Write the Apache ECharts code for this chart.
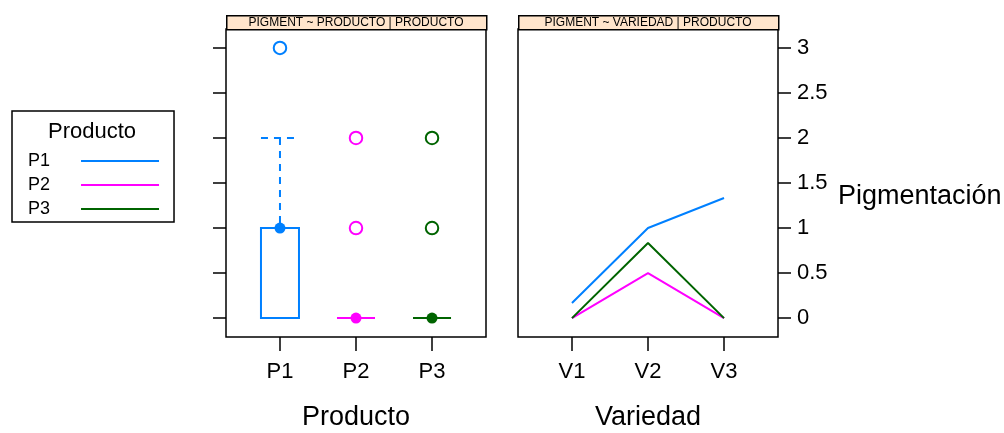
<!DOCTYPE html>
<html>
<head>
<meta charset="utf-8">
<script src="https://cdn.jsdelivr.net/npm/echarts@6/dist/echarts.min.js"></script>
<style>
  html, body { margin: 0; padding: 0; background: #fff; }
  #chart { width: 1004px; height: 433px; }
</style>
</head>
<body>
<div id="chart"></div>
<script>
// Categories
const productos = ['P1', 'P2', 'P3'];
const variedades = ['V1', 'V2', 'V3'];
const yTicks = [0, 0.5, 1, 1.5, 2, 2.5, 3];

// Box summaries per product: lower whisker, Q1, median, Q3, upper whisker
const cajaP1 = [0, 0, 1, 1, 2];
const cajaP2 = [0, 0, 0, 0, 0];
const cajaP3 = [0, 0, 0, 0, 0];

// Points beyond the whiskers
const atipicosP1 = [3];
const atipicosP2 = [1, 2];
const atipicosP3 = [1, 2];

// Mean pigmentation per variety, one line per product
const mediaP1 = [0.167, 1, 1.333];
const mediaP2 = [0, 0.5, 0];
const mediaP3 = [0, 0.833, 0];

const colores = ['#0080ff', '#ff00ff', '#006400'];
const FONT = "'Liberation Sans', Arial, sans-serif";

const cajas = [cajaP1, cajaP2, cajaP3];
const atipicos = [atipicosP1, atipicosP2, atipicosP3];
const medias = [mediaP1, mediaP2, mediaP3];

const X_MIN = 0.29, X_MAX = 3.71, Y_MIN = -0.21, Y_MAX = 3.21;
const PANEL_L = [226, 518], PANEL_W = 260, PANEL_TOP = 29, PANEL_H = 308, STRIP_H = 14;

function xAxisFor(grid, labels, name) {
  return {
    type: 'value', gridIndex: grid, min: X_MIN, max: X_MAX, position: 'bottom',
    axisLine: { show: false, onZero: false },
    splitLine: { show: false },
    axisTick: { show: true, inside: false, length: 14, customValues: [1, 2, 3], lineStyle: { color: '#000', width: 1.5 } },
    axisLabel: {
      show: true, customValues: [1, 2, 3], margin: 24,
      formatter: v => labels[Math.round(v) - 1],
      color: '#000', fontSize: 22, fontFamily: FONT
    },
    name: name, nameLocation: 'middle', nameGap: 67,
    nameTextStyle: { color: '#000', fontSize: 27, fontFamily: FONT }
  };
}

function yAxisFor(grid, withLabels) {
  const ax = {
    type: 'value', gridIndex: grid, min: Y_MIN, max: Y_MAX,
    position: withLabels ? 'right' : 'left',
    axisLine: { show: false, onZero: false },
    splitLine: { show: false },
    axisTick: { show: true, inside: false, length: 13, customValues: yTicks, lineStyle: { color: '#000', width: 1.5 } },
    axisLabel: {
      show: withLabels, customValues: yTicks, margin: 19,
      color: '#000', fontSize: 22, fontFamily: FONT
    }
  };
  if (withLabels) {
    ax.name = 'Pigmentación';
    ax.nameLocation = 'middle';
    ax.nameRotate = 0;
    ax.nameGap = 60;
    ax.nameTextStyle = { color: '#000', fontSize: 27, fontFamily: FONT, align: 'left', verticalAlign: 'top' };
  }
  return ax;
}

// Box-and-whisker drawn through the axis scales
function renderCaja(params, api) {
  const x = api.value(0);
  const lo = api.value(1), q1 = api.value(2), med = api.value(3), q3 = api.value(4), hi = api.value(5);
  const color = colores[params.dataIndex];
  const half = api.size([0.5, 0])[0] / 2;
  const pQ1 = api.coord([x, q1]), pQ3 = api.coord([x, q3]);
  const pLo = api.coord([x, lo]), pHi = api.coord([x, hi]);
  const pMed = api.coord([x, med]);
  const solid = { stroke: color, fill: null, lineWidth: 2 };
  const dashed = { stroke: color, fill: null, lineWidth: 2, lineDash: [7, 6] };
  const children = [{
    type: 'polygon',
    shape: { points: [[pQ1[0] - half, pQ3[1]], [pQ1[0] + half, pQ3[1]], [pQ1[0] + half, pQ1[1]], [pQ1[0] - half, pQ1[1]]] },
    style: solid
  }];
  if (hi > q3) {
    children.push({ type: 'line', shape: { x1: pHi[0], y1: pHi[1], x2: pQ3[0], y2: pQ3[1] }, style: dashed });
    children.push({ type: 'line', shape: { x1: pHi[0] - half, y1: pHi[1], x2: pHi[0] + half, y2: pHi[1] }, style: dashed });
  }
  if (lo < q1) {
    children.push({ type: 'line', shape: { x1: pQ1[0], y1: pQ1[1], x2: pLo[0], y2: pLo[1] }, style: dashed });
    children.push({ type: 'line', shape: { x1: pLo[0] - half, y1: pLo[1], x2: pLo[0] + half, y2: pLo[1] }, style: dashed });
  }
  children.push({ type: 'circle', shape: { cx: pMed[0], cy: pMed[1], r: 5.5 }, style: { fill: color, stroke: null } });
  return { type: 'group', children: children };
}

const series = [];
// Mean lines (first, so the legend picks up their line style)
productos.forEach((p, i) => {
  series.push({
    name: p, type: 'line', xAxisIndex: 1, yAxisIndex: 1,
    data: medias[i].map((v, j) => [j + 1, v]),
    symbol: 'none', lineStyle: { color: colores[i], width: 2 }, itemStyle: { color: colores[i] },
    silent: true
  });
});
series.push({
  name: 'cajas', type: 'custom', xAxisIndex: 0, yAxisIndex: 0,
  renderItem: renderCaja,
  encode: { x: 0, y: [1, 2, 3, 4, 5] },
  data: cajas.map((c, i) => [i + 1].concat(c)),
  silent: true
});
productos.forEach((p, i) => {
  series.push({
    name: 'atipicos ' + p, type: 'scatter', xAxisIndex: 0, yAxisIndex: 0,
    data: atipicos[i].map(v => [i + 1, v]),
    symbol: 'emptyCircle', symbolSize: 12.5,
    itemStyle: { color: colores[i], borderColor: colores[i], borderWidth: 2, opacity: 1 },
    silent: true
  });
});

const graphics = [];
const stripTitles = ['PIGMENT ~ PRODUCTO | PRODUCTO', 'PIGMENT ~ VARIEDAD | PRODUCTO'];
PANEL_L.forEach((l, k) => {
  graphics.push({
    type: 'rect', left: l, top: PANEL_TOP - STRIP_H, z: 10,
    shape: { width: PANEL_W, height: STRIP_H },
    style: { fill: '#ffe5cc', stroke: '#000', lineWidth: 1.5 }
  });
  graphics.push({
    type: 'text', x: l + PANEL_W / 2, y: PANEL_TOP - STRIP_H / 2 + 0.5, z: 11,
    style: { text: stripTitles[k], align: 'center', verticalAlign: 'middle', fontSize: 12, fontFamily: FONT, fill: '#000' }
  });
});
graphics.push({
  type: 'text', x: 92, y: 132, z: 11,
  style: { text: 'Producto', align: 'center', verticalAlign: 'middle', fontSize: 22, fontFamily: FONT, fill: '#000' }
});

const option = {
  animation: false,
  backgroundColor: '#fff',
  textStyle: { fontFamily: FONT },
  grid: PANEL_L.map(l => ({
    left: l, top: PANEL_TOP, width: PANEL_W, height: PANEL_H,
    outerBoundsMode: 'none', containLabel: false,
    show: true, borderColor: '#000', borderWidth: 1.5, backgroundColor: 'transparent'
  })),
  xAxis: [xAxisFor(0, productos, 'Producto'), xAxisFor(1, variedades, 'Variedad')],
  yAxis: [yAxisFor(0, false), yAxisFor(1, true)],
  legend: {
    data: productos, orient: 'vertical', align: 'right',
    left: 12, top: 111, padding: [40, 14, 3, 16],
    itemWidth: 78, itemHeight: 20, itemGap: 4,
    borderColor: '#000', borderWidth: 1.5,
    selectedMode: false,
    itemStyle: { opacity: 0, borderWidth: 0 },
    textStyle: { color: '#000', fontSize: 18, fontFamily: FONT, lineHeight: 20, padding: [0, 26, 0, 0] }
  },
  graphic: graphics,
  series: series
};

const chart = echarts.init(document.getElementById('chart'), null, { renderer: 'canvas' });
chart.setOption(option);
</script>
</body>
</html>
